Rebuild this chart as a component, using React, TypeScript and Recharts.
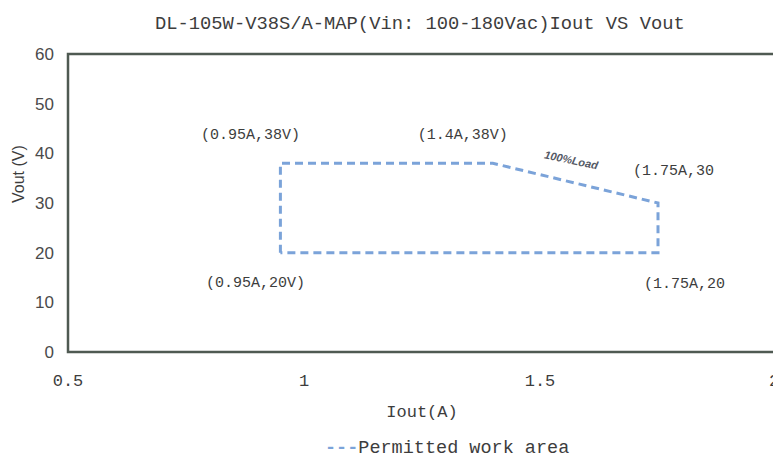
import React from "react";
import {
  ComposedChart,
  Line,
  XAxis,
  YAxis,
  ReferenceArea,
  ReferenceDot,
  Legend,
} from "recharts";

const iout = [0.95, 0.95, 1.4, 1.75, 1.75, 0.95];
const vout = [20, 38, 38, 30, 20, 20];
const xTicks = [0.5, 1, 1.5, 2];
const yTicks = [0, 10, 20, 30, 40, 50, 60];
const cornerIout = [0.95, 0.95, 1.4, 1.75, 1.75];
const cornerVout = [20, 38, 38, 30, 20];
const cornerText = ["(0.95A,20V)", "(0.95A,38V)", "(1.4A,38V)", "(1.75A,30", "(1.75A,20"];
const loadText = "100%Load";
const title = "DL-105W-V38S/A-MAP(Vin: 100-180Vac)Iout VS Vout";

const data = iout.map((x, i) => ({ x, v: vout[i] }));

const MONO = "'Liberation Mono', 'DejaVu Sans Mono', monospace";
const SANS = "'Liberation Sans', Arial, sans-serif";
const BLUE = "#7ba3d9";
const INK = "#3d3d3d";

// where each corner caption sits relative to its corner
const captionShift = [
  { dx: -25, dy: 30, anchor: "middle" },
  { dx: -30, dy: -28, anchor: "middle" },
  { dx: -30, dy: -28, anchor: "middle" },
  { dx: -25, dy: -32, anchor: "start" },
  { dx: -14, dy: 31, anchor: "start" },
];

const XTick = (p: any) => {
  const v = Number(p.payload && p.payload.value);
  const last = v >= xTicks[xTicks.length - 1];
  return (
    <text
      x={Number(p.x) - (last ? 2 : 0)}
      y={Number(p.y)}
      dy="0.71em"
      textAnchor="middle"
      fontFamily={MONO}
      fontSize={17}
      fill={INK}
    >
      {v}
    </text>
  );
};

const PermitLegend = () => (
  <div style={{ paddingLeft: 317, fontFamily: MONO, fontSize: 18.5, color: INK, lineHeight: "30px" }}>
    <span style={{ color: BLUE, fontWeight: "bold" }}>---</span>
    Permitted work area
  </div>
);

const App: React.FC = () => (
  <div style={{ position: "relative", width: 773, height: 456, marginBottom: -8, background: "#fff" }}>
    <div
      style={{
        position: "absolute",
        top: 5,
        left: 147,
        fontFamily: MONO,
        fontSize: 18.8,
        color: INK,
        whiteSpace: "nowrap",
      }}
    >
      {title}
    </div>
    <ComposedChart
      width={773}
      height={456}
      data={data}
      margin={{ top: 46, right: 5, left: 0, bottom: 0 }}
      style={{ overflow: "visible" }}
    >
      <XAxis
        dataKey="x"
        type="number"
        domain={[0.5, 2]}
        ticks={xTicks}
        axisLine={false}
        tickLine={false}
        tickSize={0}
        tickMargin={22}
        height={82}
        tick={XTick}
        label={{ value: "Iout(A)", position: "insideBottom", offset: 17, fontFamily: MONO, fontSize: 17, fill: INK }}
      />
      <YAxis
        type="number"
        domain={[0, 60]}
        ticks={yTicks}
        axisLine={false}
        tickLine={false}
        tickSize={0}
        tickMargin={14}
        width={60}
        tick={{ fontFamily: SANS, fontSize: 17, fill: "#4a4a4a" }}
        label={{ value: "Vout (V)", angle: -90, position: "insideLeft", offset: 10, fontFamily: SANS, fontSize: 16, fill: INK }}
      />
      <ReferenceArea x1={0.5} x2={2} y1={0} y2={60} fill="none" stroke="#4f5a52" strokeWidth={2.5} />
      <Line
        dataKey="v"
        type="linear"
        stroke={BLUE}
        strokeWidth={3}
        strokeDasharray="8 5"
        dot={false}
        activeDot={false}
        isAnimationActive={false}
        legendType="none"
      />
      {cornerText.map((t, i) => (
        <ReferenceDot
          key={t}
          x={cornerIout[i]}
          y={cornerVout[i]}
          r={0}
          shape={(p: any) => (
            <text
              x={p.cx + captionShift[i].dx}
              y={p.cy + captionShift[i].dy}
              textAnchor={captionShift[i].anchor}
              dominantBaseline="middle"
              fontFamily={MONO}
              fontSize={15}
              fill={INK}
            >
              {t}
            </text>
          )}
        />
      ))}
      <ReferenceDot
        x={cornerIout[3]}
        y={cornerVout[3]}
        r={0}
        shape={(p: any) => (
          <text
            x={p.cx - 87}
            y={p.cy - 42}
            textAnchor="middle"
            dominantBaseline="middle"
            fontFamily={SANS}
            fontSize={11}
            fontStyle="italic"
            fontWeight="bold"
            fill="#555a66"
            transform={`rotate(12 ${p.cx - 87} ${p.cy - 42})`}
          >
            {loadText}
          </text>
        )}
      />
      <Legend verticalAlign="bottom" height={30} content={() => <PermitLegend />} />
    </ComposedChart>
  </div>
);

export default App;
